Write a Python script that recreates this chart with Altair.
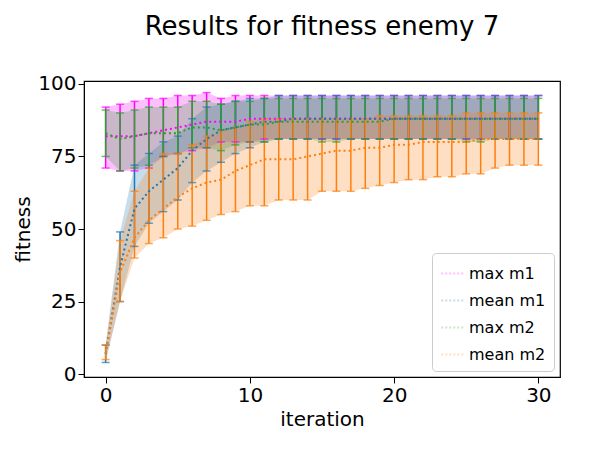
import altair as alt
import pandas as pd

iters = list(range(31))
names = ["max m1", "mean m1", "max m2", "mean m2"]
colors = ["#ff00ff", "#1f77b4", "#2ca02c", "#ff7f0e"]

max_m1 = [82,82,82,83,84,85,86,87,87,87,88,88,88,88,88,88,88,88,88,88,88,88,88,88,88,88,88,88,88,88,88]
max_m1_lo = [71,70,70,71,75,76,77,78,80,80,80,81,81,81,81,81,81,81,81,81,81,81,81,81,81,81,81,81,81,81,81]
max_m1_hi = [92,93,94,95,95,96,96,97,95,96,96,96,96,96,96,96,96,96,96,96,96,96,96,96,96,96,96,96,96,96,96]

mean_m1 = [7,37,57,63,67,71,77,81,84,85,86,87,87,88,88,88,88,88,88,88,88,88,88,88,88,88,88,88,88,88,88]
mean_m1_lo = [4,25,44,52,56,60,66,70,73,76,78,80,81,81,81,81,81,81,81,81,81,81,81,81,81,81,81,81,81,81,81]
mean_m1_hi = [10,49,72,76,80,82,88,92,93,94,95,95,96,96,96,96,96,96,96,96,96,96,96,96,96,96,96,96,96,96,96]

max_m2 = [83,81,82,83,83,83,85,85,84,85,86,86,87,87,87,87,87,87,87,87,88,88,88,88,88,88,88,88,88,88,88]
max_m2_lo = [75,70,71,72,75,76,78,78,77,79,80,80,81,81,81,80,80,81,81,81,81,81,81,81,81,80,80,81,81,81,81]
max_m2_hi = [91,90,91,92,92,92,94,94,93,94,94,95,95,95,95,95,95,95,95,95,95,95,95,95,95,95,95,95,95,95,95]

mean_m2 = [7,35,47,53,57,61,64,66,67,70,72,74,74,74,75,76,77,77,78,78,79,79,80,80,80,80,81,81,81,81,81]
mean_m2_lo = [5,25,40,45,47,50,51,53,55,56,58,58,60,60,60,63,63,63,64,65,66,67,67,68,68,69,69,71,72,72,72]
mean_m2_hi = [10,46,63,71,76,76,79,82,84,85,87,88,88,88,88,88,88,88,88,89,89,89,89,89,89,90,90,90,90,90,90]

rows = []
for n, m, lo, hi in [("max m1", max_m1, max_m1_lo, max_m1_hi),
                     ("mean m1", mean_m1, mean_m1_lo, mean_m1_hi),
                     ("max m2", max_m2, max_m2_lo, max_m2_hi),
                     ("mean m2", mean_m2, mean_m2_lo, mean_m2_hi)]:
    for i in iters:
        rows.append({"series": n, "iteration": i, "fitness": m[i], "lo": lo[i], "hi": hi[i]})
df = pd.DataFrame(rows)

F = "DejaVu Sans"
color = alt.Color("series:N", scale=alt.Scale(domain=names, range=colors),
                  legend=alt.Legend(title=None, orient="bottom-right", symbolType="stroke",
                                    symbolStrokeWidth=2, symbolDash=[2, 2], labelFontSize=16, labelFont=F,
                                    symbolSize=500, fillColor="white", strokeColor="#cccccc",
                                    padding=8, cornerRadius=4, offset=6, rowPadding=6, labelColor="black"))
x = alt.X("iteration:Q", scale=alt.Scale(domain=[-1.5, 31.5], nice=False),
          axis=alt.Axis(values=[0, 10, 20, 30], grid=False, labelFontSize=20, titleFontSize=20,
                        titleFontWeight="normal", tickSize=6, labelColor="black", titleColor="black"))
yax = alt.Axis(values=[0, 25, 50, 75, 100], grid=False, labelFontSize=20, titleFontSize=20,
               titleFontWeight="normal", tickSize=6, labelColor="black", titleColor="black")
ysc = alt.Scale(domain=[-1, 101], nice=False)
y = alt.Y("fitness:Q", title="fitness", scale=ysc, axis=yax)

base = alt.Chart(df)
band = base.mark_area(opacity=0.25).encode(x=x, y=alt.Y("lo:Q", scale=ysc, axis=yax, title="fitness"), y2="hi:Q", color=color)
rule = base.mark_rule(strokeWidth=1.5).encode(x=x, y="lo:Q", y2="hi:Q", color=color)
cap_lo = base.mark_tick(orient="horizontal", size=8, thickness=1.5).encode(x=x, y="lo:Q", color=color)
cap_hi = base.mark_tick(orient="horizontal", size=8, thickness=1.5).encode(x=x, y="hi:Q", color=color)
line = base.mark_line(strokeDash=[2, 3], strokeWidth=2).encode(x=x, y=y, color=color)

chart = alt.layer(band, rule, cap_lo, cap_hi, line).properties(
    width=476, height=296,
    title=alt.TitleParams("Results for fitness enemy 7", fontSize=26, fontWeight="normal", offset=34, color="black", font=F),
).configure_view(stroke="black", strokeWidth=1.2).configure_axis(
    domainColor="black", tickColor="black", labelFont=F, titleFont=F)

chart.save("out.html", embed_options={"renderer": "svg", "actions": False})
